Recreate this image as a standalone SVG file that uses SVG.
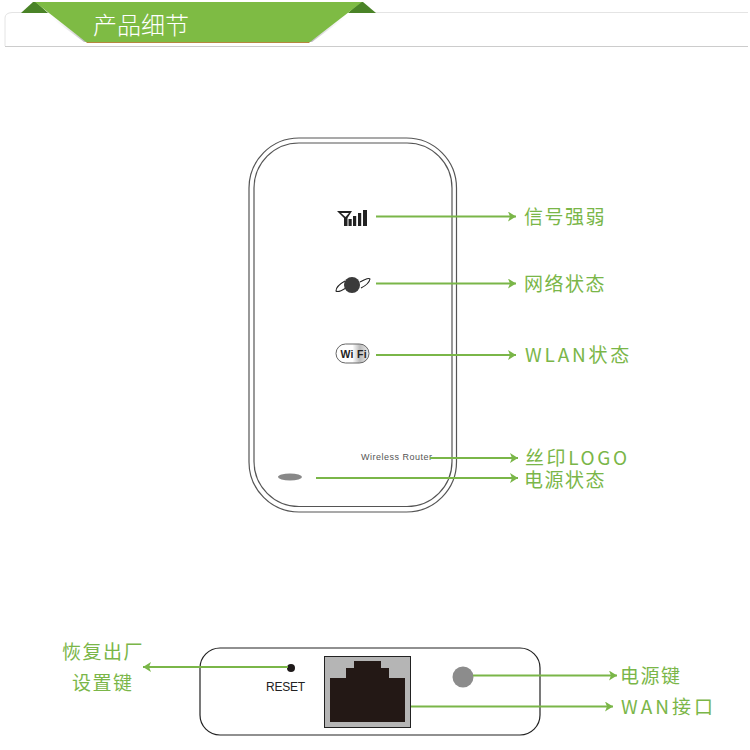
<svg xmlns="http://www.w3.org/2000/svg" width="750" height="750" viewBox="0 0 750 750">
<defs>
<marker id="ah" markerUnits="userSpaceOnUse" markerWidth="9" markerHeight="10" refX="8" refY="5" orient="auto-start-reverse"><path d="M0 0L8 5L0 10L2 5Z" fill="#7ab648"/></marker>
<linearGradient id="wf" x1="0" x2="1" y1="0" y2="0"><stop offset="0.5" stop-color="#fff"/><stop offset="0.72" stop-color="#bbb"/><stop offset="1" stop-color="#eee"/></linearGradient>
<linearGradient id="sl" x1="0" x2="1" y1="0" y2="0"><stop offset="0" stop-color="#fff" stop-opacity="0"/><stop offset="1" stop-color="#a9a5ad"/></linearGradient>
<linearGradient id="sr" x1="1" x2="0" y1="0" y2="0"><stop offset="0" stop-color="#fff" stop-opacity="0"/><stop offset="1" stop-color="#a9a5ad"/></linearGradient>
</defs>
<style>
.c{stroke:#7ab648;stroke-width:2;fill:none}
.a{marker-end:url(#ah)}
.l{font-family:"Noto Sans CJK SC","Liberation Sans",sans-serif;fill:#7ab648;font-size:19px;letter-spacing:1.500px}
.o{fill:none;stroke:#555;stroke-width:1.200}
</style>
<rect width="750" height="750" fill="#fff"/>
<g id="banner">
<path d="M5 46V18Q5 13 12 12.500H748" fill="none" stroke="#e4e4e4" stroke-width="1"/>
<path d="M5 46.500H748" stroke="#ccc" stroke-width="1"/>
<path d="M46 14L84 42H90L52 14Z" fill="url(#sl)"/>
<path d="M350 14L312 42H306L344 14Z" fill="url(#sr)"/>
<path d="M21 13L33 2H36L48 13Z" fill="#4a8327"/>
<path d="M376 13L363 2H360L348 13Z" fill="#4a8327"/>
<path d="M35 2H362L310 42H86Z" fill="#7ebb44"/>
<path d="M86 42H310L309 43H87Z" fill="#b5873f"/>
<text x="93" y="34" font-family="'Noto Sans CJK SC',sans-serif" font-size="24" font-weight="300" fill="#fff">产品细节</text>
</g>
<g id="router-front">
<rect x="249" y="138" width="207.500" height="374" rx="50" ry="50" class="o"/>
<rect x="254" y="143" width="198" height="363.500" rx="45" ry="45" class="o"/>
<text x="361" y="460" font-family="'Liberation Sans',sans-serif" font-size="9" fill="#555" letter-spacing="0.500">Wireless Router</text>
<ellipse cx="290" cy="477" rx="12" ry="3.500" fill="#888"/>
</g>
<g id="icon-signal" fill="#222">
<path d="M337 211H352L347.500 218V226H344V218ZM341 213L345.500 217L349 213Z" fill-rule="evenodd"/>
<rect x="348.500" y="219" width="3.200" height="7"/>
<rect x="353" y="216" width="3.200" height="10"/>
<rect x="358" y="213" width="3.200" height="13"/>
<rect x="363" y="210" width="4" height="16"/>
</g>
<g id="icon-network">
<path d="M346 288Q338 293 336 291Q336 286 345 281M360 282Q369 277 370 279Q369 284 361 288" fill="none" stroke="#222" stroke-width="1.100"/>
<circle cx="352" cy="285" r="8" fill="#3a3a3a"/>
</g>
<g id="icon-wifi">
<rect x="336" y="344" width="33" height="19" rx="9.500" fill="url(#wf)" stroke="#666" stroke-width="1"/>
<text x="340.500" y="358" font-family="'Liberation Sans',sans-serif" font-size="10.500" font-weight="700" fill="#222" letter-spacing="0.300">Wi Fi</text>
</g>
<g id="router-back">
<rect x="200" y="648" width="340" height="87" rx="20" ry="20" fill="none" stroke="#222" stroke-width="1.200"/>
<circle cx="291" cy="668" r="4" fill="#1f1a1a"/>
<text x="266" y="691" font-family="'Liberation Sans',sans-serif" font-size="12" fill="#222" textLength="39">RESET</text>
<rect x="324.500" y="656.500" width="86" height="71" fill="#b5b5b5" stroke="#222" stroke-width="1"/>
<path d="M330 678H346V668H354V661H381V668H389V678H405V722H330Z" fill="#231815"/>
<circle cx="463" cy="677" r="10.500" fill="#8c8c8c"/>
</g>
<g id="connectors">
<path class="c a" d="M376 216.500H516"/>
<path class="c a" d="M376 283.500H516"/>
<path class="c a" d="M376 355H516"/>
<path class="c a" d="M430 458H518"/>
<path class="c a" d="M316 478H518"/>
<path class="c a" d="M288 667H143"/>
<path class="c a" d="M473 675.500H617"/>
<path class="c a" d="M411 706.500H613"/>
</g>
<g id="labels">
<text class="l" x="524" y="223.500">信号强弱</text>
<text class="l" x="524" y="290.500">网络状态</text>
<text class="l" x="525" y="361.500" style="letter-spacing:2.800px">WLAN状态</text>
<text class="l" x="525" y="464.500" style="letter-spacing:2.600px">丝印LOGO</text>
<text class="l" x="524" y="487">电源状态</text>
<text class="l" x="62" y="659">恢复出厂</text>
<text class="l" x="72" y="689.500">设置键</text>
<text class="l" x="620" y="682.500">电源键</text>
<text class="l" x="621" y="713.500" style="letter-spacing:3px">WAN接口</text>
</g>
</svg>
